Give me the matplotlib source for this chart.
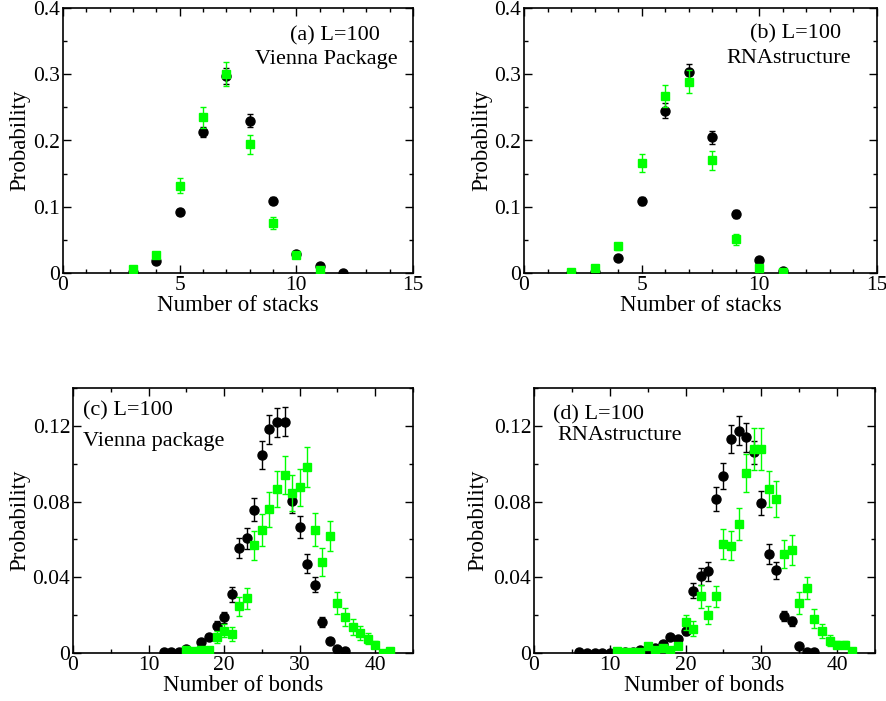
import numpy as np
import matplotlib
matplotlib.use('Agg')
import matplotlib.pyplot as plt
from matplotlib.ticker import MultipleLocator

plt.rcParams['font.family'] = ['Liberation Serif', 'DejaVu Serif']

# ---- data ----
# (a) stacks, Vienna
a_x_blk = [3, 4, 5, 6, 7, 8, 9, 10, 11, 12]
a_y_blk = [0.001, 0.018, 0.092, 0.213, 0.297, 0.230, 0.109, 0.029, 0.010, 0.0005]
a_e_blk = [0.001, 0.003, 0.005, 0.008, 0.012, 0.010, 0.005, 0.002, 0.001, 0.0005]
a_x_grn = [3, 4, 5, 6, 7, 8, 9, 10, 11]
a_y_grn = [0.006, 0.027, 0.132, 0.235, 0.301, 0.194, 0.075, 0.027, 0.005]
a_e_grn = [0.002, 0.003, 0.012, 0.016, 0.018, 0.014, 0.009, 0.003, 0.002]

# (b) stacks, RNAstructure
b_x_blk = [2, 3, 4, 5, 6, 7, 8, 9, 10, 11]
b_y_blk = [0.0005, 0.002, 0.022, 0.108, 0.245, 0.304, 0.205, 0.089, 0.020, 0.003]
b_e_blk = [0.0005, 0.001, 0.002, 0.006, 0.011, 0.012, 0.010, 0.006, 0.002, 0.001]
b_x_grn = [2, 3, 4, 5, 6, 7, 8, 9, 10, 11]
b_y_grn = [0.001, 0.007, 0.040, 0.166, 0.267, 0.289, 0.170, 0.051, 0.007, 0.002]
b_e_grn = [0.001, 0.002, 0.006, 0.014, 0.017, 0.018, 0.014, 0.008, 0.002, 0.001]

# (c) bonds, Vienna
c_x_blk = list(range(12, 37))
c_y_blk = [0.0005, 0.0005, 0.0005, 0.002, 0.0005, 0.0056, 0.0083, 0.0144, 0.0188,
           0.0311, 0.0554, 0.0607, 0.0757, 0.1047, 0.1182, 0.1218, 0.1221, 0.0801,
           0.0665, 0.0472, 0.0361, 0.0164, 0.0065, 0.0021, 0.0009]
c_e_blk = [0.0003, 0.0003, 0.0003, 0.0006, 0.0003, 0.0013, 0.0015, 0.0024, 0.003,
           0.004, 0.0052, 0.0055, 0.006, 0.0074, 0.0077, 0.0077, 0.0077, 0.006,
           0.006, 0.005, 0.004, 0.0027, 0.0012, 0.0006, 0.0004]
c_x_grn = list(range(15, 43))
c_y_grn = [0.0014, 0.0012, 0.0014, 0.0014, 0.0084, 0.0118, 0.0102, 0.0246, 0.0289,
           0.0568, 0.0651, 0.0760, 0.0866, 0.0941, 0.0845, 0.0876, 0.0982, 0.0651,
           0.0480, 0.0620, 0.0264, 0.0190, 0.0137, 0.0106, 0.0076, 0.0044, 0.0002,
           0.0012]
c_e_grn = [0.0006, 0.0006, 0.0006, 0.0006, 0.003, 0.0033, 0.0038, 0.0051, 0.0055,
           0.0079, 0.0084, 0.0092, 0.0097, 0.0101, 0.0094, 0.0097, 0.0104, 0.0086,
           0.0075, 0.008, 0.006, 0.0048, 0.0041, 0.0037, 0.003, 0.002, 0.0006,
           0.0006]

# (d) bonds, RNAstructure
d_x_blk = list(range(6, 38))
d_y_blk = [0.0005, 0.0002, 0.0002, 0.0002, 0.0002, 0.0005, 0.0003, 0.0003, 0.0018,
           0.0014, 0.0025, 0.0049, 0.0083, 0.0074, 0.0114, 0.0329, 0.0405, 0.0431,
           0.0813, 0.0933, 0.1131, 0.1175, 0.1140, 0.1060, 0.0792, 0.0524, 0.0436,
           0.0197, 0.0167, 0.0035, 0.0005, 0.0005]
d_e_blk = [0.0003, 0.0002, 0.0002, 0.0002, 0.0002, 0.0003, 0.0003, 0.0003, 0.0006,
           0.0006, 0.0008, 0.0012, 0.0015, 0.0014, 0.002, 0.004, 0.0044, 0.005,
           0.0063, 0.0069, 0.0075, 0.0075, 0.0077, 0.006, 0.0065, 0.0054, 0.0043,
           0.0026, 0.0024, 0.001, 0.0003, 0.0003]
d_x_grn = list(range(11, 43))
d_y_grn = [0.0012, 0.0003, 0.0003, 0.0003, 0.0035, 0.0014, 0.0026, 0.0014, 0.0035,
           0.0162, 0.0128, 0.0299, 0.0202, 0.0299, 0.0577, 0.0567, 0.0683, 0.0950,
           0.1077, 0.1077, 0.0868, 0.0813, 0.0524, 0.0542, 0.0264, 0.0343, 0.0180,
           0.0114, 0.0065, 0.0044, 0.0044, 0.0012]
d_e_grn = [0.0006, 0.0003, 0.0003, 0.0003, 0.0012, 0.0008, 0.001, 0.0008, 0.0012,
           0.004, 0.004, 0.006, 0.0048, 0.0056, 0.0079, 0.0077, 0.0085, 0.0101,
           0.011, 0.011, 0.0096, 0.0094, 0.0075, 0.0079, 0.006, 0.006, 0.005,
           0.0037, 0.003, 0.002, 0.002, 0.0006]

GREEN = '#00ff00'
FS_TICK = 15.5
FS_LAB = 16.5
FS_TXT = 16


def panel(rect, xb, yb, eb, xg, yg, eg, xlim, ylim, xmaj, xmin, ymaj, ymin,
          yfmt, xlabel, ylab_x):
    ax = fig.add_axes(rect)
    ax.errorbar(xb, yb, yerr=eb, fmt='o', color='black', ms=6.5, capsize=2.5,
                elinewidth=1, capthick=1, zorder=3)
    ax.errorbar(xg, yg, yerr=eg, fmt='s', color=GREEN, ms=5.8, capsize=2.5,
                elinewidth=1, capthick=1, zorder=4)
    ax.set_xlim(*xlim)
    ax.set_ylim(*ylim)
    ax.xaxis.set_major_locator(MultipleLocator(xmaj))
    ax.xaxis.set_minor_locator(MultipleLocator(xmin))
    ax.yaxis.set_major_locator(MultipleLocator(ymaj))
    ax.yaxis.set_minor_locator(MultipleLocator(ymin))
    ax.yaxis.set_major_formatter(
        plt.FuncFormatter(lambda v, p: '0' if abs(v) < 1e-9 else yfmt % v))
    ax.tick_params(which='both', direction='in', top=True, right=True,
                   labelsize=FS_TICK, width=1)
    ax.tick_params(which='major', length=6, pad=2)
    ax.tick_params(which='minor', length=3)
    for s in ax.spines.values():
        s.set_linewidth(1.2)
    ax.set_xlabel(xlabel, fontsize=FS_LAB)
    ax.set_ylabel('Probability', fontsize=FS_LAB, va='center')
    ax.xaxis.set_label_coords(0.5, -0.082)
    ax.yaxis.set_label_coords(ylab_x, 0.5)
    return ax


W, H = 886, 701
fig = plt.figure(figsize=(W / 100, H / 100), dpi=100)


def rect(l, r, t, b):
    return [l / W, 1 - b / H, (r - l) / W, (b - t) / H]


ax_a = panel(rect(63, 413, 8, 273), a_x_blk, a_y_blk, a_e_blk, a_x_grn, a_y_grn, a_e_grn,
             (0, 15), (0, 0.4), 5, 1, 0.1, 0.05, '%.1f', 'Number of stacks', -0.123)
ax_a.text(0.776, 0.895, '(a) L=100', transform=ax_a.transAxes, ha='center', va='center', fontsize=FS_TXT)
ax_a.text(0.753, 0.805, 'Vienna Package', transform=ax_a.transAxes, ha='center', va='center', fontsize=FS_TXT)

ax_b = panel(rect(524, 877, 8, 273), b_x_blk, b_y_blk, b_e_blk, b_x_grn, b_y_grn, b_e_grn,
             (0, 15), (0, 0.4), 5, 1, 0.1, 0.05, '%.1f', 'Number of stacks', -0.12)
ax_b.text(0.768, 0.902, '(b) L=100', transform=ax_b.transAxes, ha='center', va='center', fontsize=FS_TXT)
ax_b.text(0.749, 0.810, 'RNAstructure', transform=ax_b.transAxes, ha='center', va='center', fontsize=FS_TXT)

ax_c = panel(rect(73, 413, 388, 653), c_x_blk, c_y_blk, c_e_blk, c_x_grn, c_y_grn, c_e_grn,
             (0, 45), (0, 0.14), 10, 5, 0.04, 0.02, '%.2f', 'Number of bonds', -0.156)
ax_c.text(0.03, 0.914, '(c) L=100', transform=ax_c.transAxes, ha='left', va='center', fontsize=FS_TXT)
ax_c.text(0.03, 0.797, 'Vienna package', transform=ax_c.transAxes, ha='left', va='center', fontsize=FS_TXT)

ax_d = panel(rect(534, 875, 388, 653), d_x_blk, d_y_blk, d_e_blk, d_x_grn, d_y_grn, d_e_grn,
             (0, 45), (0, 0.14), 10, 5, 0.04, 0.02, '%.2f', 'Number of bonds', -0.164)
ax_d.text(0.056, 0.899, '(d) L=100', transform=ax_d.transAxes, ha='left', va='center', fontsize=FS_TXT)
ax_d.text(0.070, 0.822, 'RNAstructure', transform=ax_d.transAxes, ha='left', va='center', fontsize=FS_TXT)

fig.savefig('out.png', dpi=100)
